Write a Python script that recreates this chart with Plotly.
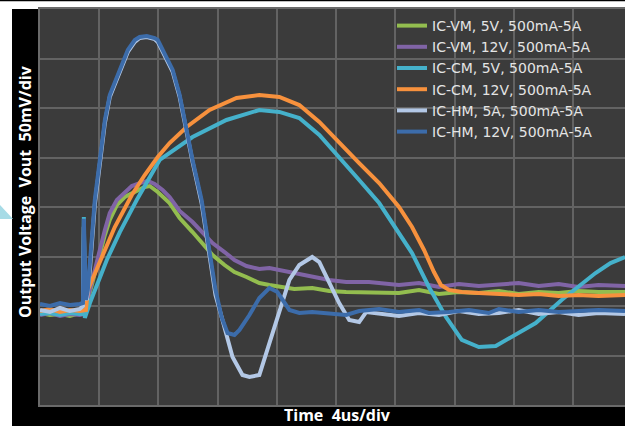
import plotly.graph_objects as go

# Load-step response, time in microseconds, output voltage deviation in mV

vm5_t = [0, 0.67, 1.35, 2.02, 2.69, 2.96, 3.23, 3.70, 4.04, 4.38, 4.71, 5.19, 5.72, 6.40, 7.07, 7.41, 7.95,
         8.75, 9.43, 10.30, 10.98, 11.65, 12.46, 13.13, 13.94, 14.81, 15.49, 16.16, 17.17, 18.38, 19.53,
         20.67, 22.22, 24.24, 25.59, 26.94, 28.28, 29.63, 30.98, 32.32, 33.67, 35.02, 36.36, 37.71, 39.5]
vm5_mv = [-7.1, -9.1, -8.1, -10.1, -7.1, -8.1, 6.1, 34.3, 51.5, 71.7, 86.9, 102.0, 110.1, 115.2, 120.2, 121.2,
          115.2, 104.0, 88.9, 74.7, 63.6, 51.5, 41.4, 34.3, 29.3, 23.2, 21.2, 19.2, 17.2, 18.2, 15.2,
          14.1, 14.1, 13.1, 16.2, 12.1, 14.1, 13.1, 15.2, 12.1, 14.1, 13.1, 15.2, 14.1, 14.1]

vm12_t = [0, 0.67, 1.35, 2.02, 2.69, 2.96, 3.23, 3.70, 4.04, 4.38, 4.71, 5.19, 5.72, 6.20, 6.73, 7.27, 7.74,
          8.28, 8.75, 9.43, 10.30, 10.98, 11.65, 12.46, 13.13, 13.94, 14.81, 15.49, 16.16, 17.17, 18.38,
          19.53, 20.67, 22.22, 24.24, 25.59, 26.94, 28.28, 29.63, 30.98, 32.32, 33.67, 35.02, 36.36, 37.71, 39.5]
vm12_mv = [-9.1, -7.1, -10.1, -8.1, -9.1, -8.1, 8.1, 38.4, 56.6, 76.8, 93.9, 107.1, 115.2, 121.2, 124.2, 126.3,
           123.2, 117.2, 110.1, 96.0, 84.8, 74.7, 63.6, 54.5, 46.5, 40.4, 37.4, 38.4, 36.4, 34.3, 30.3,
           26.3, 24.2, 24.2, 21.2, 23.2, 19.2, 22.2, 20.2, 21.2, 23.2, 20.2, 22.2, 19.2, 21.2, 20.2]

cm5_t = [0, 0.67, 1.35, 2.02, 2.69, 2.90, 2.96, 3.03, 3.37, 4.04, 4.51, 5.39, 6.53, 8.08, 10.30, 12.59, 14.81,
         16.16, 17.51, 18.86, 20.20, 21.55, 22.90, 25.12, 26.26, 27.41, 28.48, 29.63, 30.77, 31.85, 33.47,
         35.22, 36.36, 37.51, 38.52, 39.5]
cm5_mv = [-8.1, -7.1, -9.1, -7.1, -8.1, -8.1, 90.0, -12.1, 3.0, 28.3, 46.5, 74.7, 107.1, 147.5, 170.7, 187.9, 198.0,
          196.0, 189.9, 172.7, 150.5, 127.3, 104.0, 53.5, 19.2, -11.1, -34.3, -41.4, -40.4, -31.3, -17.2,
          6.1, 19.2, 33.3, 43.4, 49.5]

cm12_t = [0, 0.67, 1.35, 2.02, 2.69, 3.10, 3.23, 4.04, 5.05, 6.20, 7.07, 7.95, 8.75, 9.90, 11.45, 13.27, 14.81,
          16.16, 17.51, 18.86, 20.20, 21.55, 22.90, 24.24, 25.12, 25.93, 26.60, 27.07, 27.61, 28.48, 29.63,
          30.98, 32.32, 33.67, 35.02, 36.36, 37.71, 39.5]
cm12_mv = [-5.1, -3.0, -6.1, -4.0, -5.1, -4.0, 16.2, 44.4, 79.8, 112.1, 132.3, 150.5, 164.6, 180.8, 198.0, 210.1,
           213.1, 211.1, 203.0, 185.9, 164.6, 144.4, 124.2, 100.0, 79.8, 56.6, 34.3, 21.2, 16.2, 14.1, 13.1,
           12.1, 11.1, 12.1, 10.1, 11.1, 10.1, 11.1]

hm5_t = [0, 0.67, 1.35, 2.02, 2.69, 2.90, 2.96, 3.03, 3.16, 3.37, 3.70, 4.04, 4.38, 4.71, 5.39, 5.93, 6.40, 6.73,
         7.21, 7.74, 7.95, 8.42, 8.96, 9.43, 9.76, 10.30, 10.91, 11.45, 11.85, 12.32, 13.00, 13.67, 14.14,
         14.81, 15.49, 16.16, 16.84, 17.51, 18.38, 18.86, 19.53, 20.20, 20.88, 21.55, 22.02, 23.23, 24.24,
         25.59, 26.94, 28.28, 29.63, 30.98, 32.32, 33.67, 35.02, 36.36, 37.71, 39.5]
hm5_mv = [-4.0, -6.1, -2.0, -5.1, -3.0, 0.0, 80.0, 11.1, 6.1, 36.4, 102.0, 144.4, 184.8, 211.1, 236.4, 256.6, 266.7,
          270.7, 271.7, 269.7, 266.7, 251.5, 236.4, 211.1, 185.9, 145.5, 104.0, 51.5, 11.1, -14.1, -51.5,
          -69.7, -71.7, -69.7, -37.4, -4.0, 26.3, 41.4, 49.5, 44.4, 23.2, 3.0, -14.1, -16.2, -6.1, -8.1,
          -10.1, -7.1, -9.1, -5.1, -8.1, -7.1, -4.0, -8.1, -6.1, -9.1, -7.1, -8.1]

hm12_t = [0, 0.67, 1.35, 2.02, 2.69, 2.90, 2.96, 3.03, 3.10, 3.23, 3.70, 4.04, 4.38, 4.71, 5.39, 5.93, 6.40, 6.73,
          7.21, 7.74, 7.95, 8.42, 8.96, 9.43, 9.76, 10.30, 10.91, 11.45, 11.85, 12.26, 12.66, 13.13, 13.47,
          14.14, 14.81, 15.49, 16.03, 16.84, 17.51, 18.38, 19.53, 20.67, 21.55, 22.90, 24.24, 25.59, 26.26,
          27.61, 28.96, 30.30, 30.98, 32.32, 33.67, 35.02, 36.36, 37.71, 39.5]
hm12_mv = [2.0, 0.0, 3.0, 1.0, 2.0, 3.0, 88.0, 16.2, 6.1, 16.2, 107.1, 147.5, 187.9, 213.1, 238.4, 258.6, 268.7,
           271.7, 272.7, 270.7, 268.7, 253.5, 238.4, 213.1, 187.9, 147.5, 107.1, 56.6, 16.2, -11.1, -27.3,
           -29.3, -24.2, -9.1, 8.1, 18.2, 14.1, -4.0, -7.1, -6.1, -7.1, -9.1, -5.1, -3.0, -6.1, -4.0, -7.1,
           -6.1, -4.0, -7.1, -3.0, -6.1, -4.0, -6.1, -5.1, -4.0, -5.1]

series = [
    ("IC-VM, 5V, 500mA-5A", vm5_t, vm5_mv, "#93bd4f"),
    ("IC-VM, 12V, 500mA-5A", vm12_t, vm12_mv, "#8064a6"),
    ("IC-CM, 5V, 500mA-5A", cm5_t, cm5_mv, "#45b1cb"),
    ("IC-CM, 12V, 500mA-5A", cm12_t, cm12_mv, "#f7913d"),
    ("IC-HM, 5A, 500mA-5A", hm5_t, hm5_mv, "#b3c8e6"),
    ("IC-HM, 12V, 500mA-5A", hm12_t, hm12_mv, "#3c6caa"),
]

fig = go.Figure()
for name, t, mv, color in series:
    fig.add_trace(go.Scatter(x=t, y=mv, name=name, mode="lines",
                             line=dict(color=color, width=4)))

grid = "#636363"
fig.update_xaxes(range=[0, 39.5], dtick=4, tick0=0, showticklabels=False, ticks="",
                 showgrid=True, gridcolor=grid, gridwidth=1.5, zeroline=False,
                 showline=True, linecolor="#6a6a6a", linewidth=1.5, mirror=True)
fig.update_yaxes(range=[-100, 300], dtick=50, tick0=0, showticklabels=False, ticks="",
                 showgrid=True, gridcolor=grid, gridwidth=1.5, zeroline=False,
                 showline=True, linecolor="#6a6a6a", linewidth=1.5)

W, H = 625, 426
L, T, B = 40, 9, 21
pw, ph = W - L, H - T - B


def px(x):
    return (x - L) / pw


def py(y):
    return (H - B - y) / ph


shapes = [
    # white strip at the top and on the left of the frame
    dict(type="rect", xref="paper", yref="paper", x0=px(0), x1=px(W), y0=py(9), y1=py(0),
         fillcolor="white", line=dict(width=0), layer="below"),
    dict(type="rect", xref="paper", yref="paper", x0=px(0), x1=px(12), y0=py(H), y1=py(0),
         fillcolor="white", line=dict(width=0), layer="below"),
    dict(type="rect", xref="paper", yref="paper", x0=px(0), x1=px(W), y0=py(1.3), y1=py(0),
         fillcolor="black", line=dict(width=0), layer="below"),
    # small pointer on the left margin
    dict(type="path", xref="paper", yref="paper",
         path=f"M {px(0)} {py(205)} L {px(13)} {py(219)} L {px(0)} {py(219)} Z",
         fillcolor="#a6dbe6", line=dict(width=0), layer="below"),
]

title_font = dict(family="Open Sans", size=16, color="white", weight="bold")
annotations = [
    dict(text="Output Voltage\u00a0 Vout\u00a0 50mV/div", xref="paper", yref="paper",
         x=px(25), y=py(192), showarrow=False, textangle=-90, font=title_font,
         xanchor="center", yanchor="middle"),
    dict(text="Time\u00a0 4us/div", xref="paper", yref="paper",
         x=px(337), y=py(415), showarrow=False, font=title_font,
         xanchor="center", yanchor="middle"),
]

fig.update_layout(
    width=W, height=H,
    margin=dict(l=L, r=0, t=T, b=B, pad=0),
    paper_bgcolor="black",
    plot_bgcolor="#3b3b3b",
    shapes=shapes,
    annotations=annotations,
    showlegend=True,
    legend=dict(x=px(392), y=py(10), xanchor="left", yanchor="top",
                bgcolor="rgba(0,0,0,0)", borderwidth=0,
                font=dict(family="DejaVu Sans", size=14, color="#e4e4e4"),
                tracegroupgap=0),
)

fig.write_html("out.html")
